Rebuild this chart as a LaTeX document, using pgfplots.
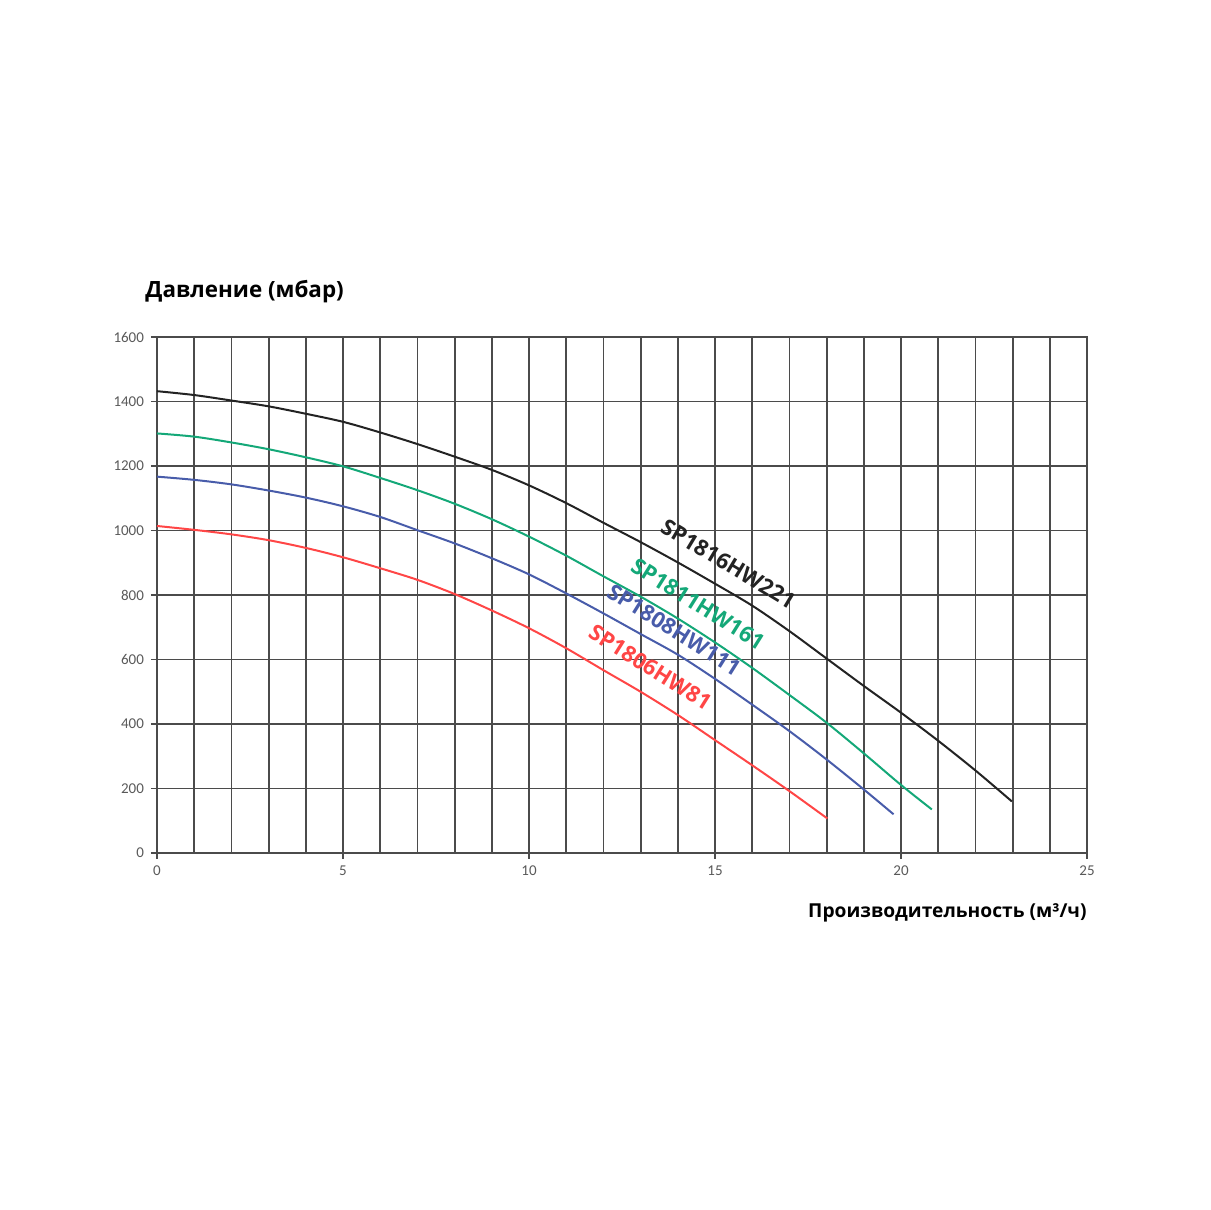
\documentclass[border=0pt]{standalone}
\usepackage{pgfplots}
\pgfplotsset{compat=1.18}
\usepackage{fontspec}
\setmainfont{Open Sans}
\newfontfamily\carlito{Carlito}
\definecolor{gridc}{RGB}{75,75,75}
\definecolor{cblack}{RGB}{35,35,35}
\definecolor{cgreen}{RGB}{20,168,120}
\definecolor{cblue}{RGB}{72,92,170}
\definecolor{cred}{RGB}{255,70,70}
\definecolor{tickc}{RGB}{89,89,89}
\begin{document}
\begin{tikzpicture}
\useasboundingbox (-78.5pt,-178.5pt) rectangle (526.5pt,426.5pt);
\begin{axis}[
  at={(0,0)}, anchor=south west,
  scale only axis, width=465pt, height=258pt,
  xmin=0, xmax=25, ymin=0, ymax=1600,
  xtick={0,5,...,25}, ytick={0,200,...,1600},
  minor xtick={0,1,...,25},
  grid=both,
  major grid style={gridc, line width=0.9pt},
  minor grid style={gridc, line width=0.9pt},
  axis line style={gridc, line width=0.9pt},
  tick style={gridc, line width=0.9pt},
  tick align=outside, major tick length=3pt, minor tick length=0pt,
  xtick pos=left, ytick pos=left,
  tick label style={font=\carlito\fontsize{7.5}{8.5}\selectfont, text=tickc},
  /pgf/number format/assume math mode=true,
  /pgf/number format/1000 sep={},
  clip=false,
]
\addplot[cblack, line width=1pt, smooth] coordinates {
(0,1432) (1,1420) (2,1403) (3,1385) (4,1362) (5,1337) (6,1304) (7,1268) (8,1229) (9,1188) (10,1140) (11,1085) (12,1024) (13,964) (14,901) (15,835) (16,767) (17,688) (18,603) (19,518) (20,435) (21,348) (22,256) (22.98,160)};
\addplot[cgreen, line width=1pt, smooth] coordinates {
(0,1301) (1,1291) (2,1273) (3,1252) (4,1227) (5,1199) (6,1163) (7,1125) (8,1083) (9,1035) (10,981) (11,922) (12,858) (13,795) (14,727) (15,653) (16,574) (17,490) (18,404) (19,309) (20,211) (20.83,135)};
\addplot[cblue, line width=1pt, smooth] coordinates {
(0,1167) (1,1157) (2,1143) (3,1124) (4,1102) (5,1075) (6,1042) (7,1001) (8,960) (9,914) (10,864) (11,805) (12,743) (13,679) (14,615) (15,540) (16,460) (17,378) (18,290) (19,197) (19.8,120)};
\addplot[cred, line width=1pt, smooth] coordinates {
(0,1014) (1,1002) (2,988) (3,970) (4,946) (5,917) (6,883) (7,847) (8,803) (9,752) (10,697) (11,635) (12,567) (13,500) (14,428) (15,350) (16,272) (17,192) (18.02,107)};
\node[rotate=-31, text=cblack, inner sep=0pt, font=\bfseries\fontsize{11}{13}\selectfont] at (axis cs:15.36,896) {SP1816HW221};
\node[rotate=-32, text=cgreen, inner sep=0pt, font=\bfseries\fontsize{11}{13}\selectfont] at (axis cs:14.54,772) {SP1811HW161};
\node[rotate=-32, text=cblue, inner sep=0pt, font=\bfseries\fontsize{11}{13}\selectfont] at (axis cs:13.90,692) {SP1808HW111};
\node[rotate=-32, text=cred, inner sep=0pt, font=\bfseries\fontsize{11}{13}\selectfont] at (axis cs:13.26,576) {SP1806HW81};
\end{axis}
\node[anchor=west, inner sep=0pt, font=\bfseries\fontsize{11.2}{13}\selectfont] at (-6pt,280.5pt) {Давление (мбар)};
\node[anchor=east, inner sep=0pt, font=\bfseries\fontsize{9.6}{12}\selectfont] at (465pt,-30pt) {Производительность (м³/ч)};
\end{tikzpicture}
\end{document}
